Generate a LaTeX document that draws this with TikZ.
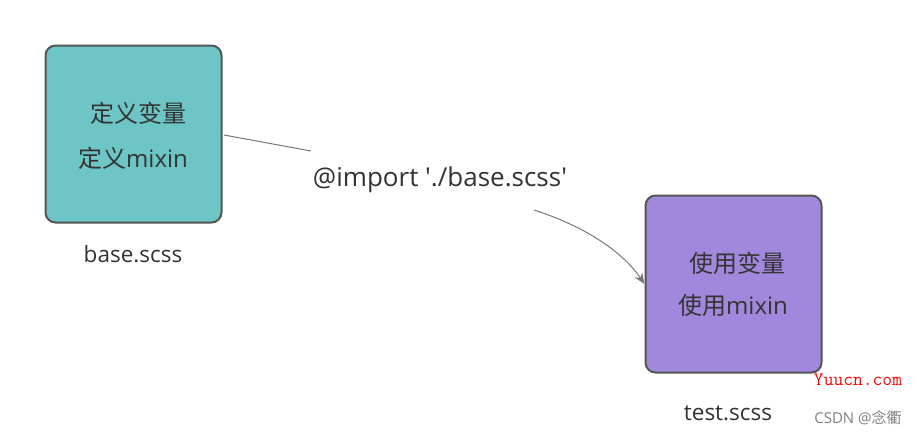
\documentclass[tikz,border=0pt]{standalone}
\usepackage{fontspec}
\newfontfamily\lat{Open Sans}
\newfontfamily\cjk{Noto Sans CJK SC}
\usetikzlibrary{arrows.meta}
\definecolor{teal1}{HTML}{6EC5C5}
\definecolor{purp1}{HTML}{A188DC}
\definecolor{bord}{HTML}{555555}
\definecolor{txt}{HTML}{333333}
\begin{document}
\begin{tikzpicture}[x=1pt,y=-1pt,
  box/.style={draw=bord,line width=2pt,rounded corners=10pt,minimum width=176pt,minimum height=177pt},
  inner/.style={text=txt,font=\lat\fontsize{24}{28}\selectfont,inner sep=0pt},
  capt/.style={text=txt,font=\lat\fontsize{22.5}{26}\selectfont,inner sep=0pt},
  conn/.style={draw=bord!80,line width=1pt}]
\useasboundingbox (0,0) rectangle (920,434);
\fill[white] (0,0) rectangle (920,434);
\node[box,fill=teal1] (a) at (133.5,134) {};
\node[box,fill=purp1] (b) at (733.5,284) {};
\node[inner] (a1) at (138,113) {\cjk 定义变量};
\node[inner] (a2) at (133,158) {{\cjk 定义}mixin};
\node[inner] (b1) at (737,263) {\cjk 使用变量};
\node[inner] (b2) at (733,305) {{\cjk 使用}mixin};
\node[capt] (la) at (133,254) {base.scss};
\node[capt] (lb) at (728,413) {test.scss};
\node[text=txt,font=\lat\fontsize{26}{30}\selectfont,inner sep=0pt] (lbl) at (440,180) {@import './base.scss'};
\coordinate (s1) at (224,135);
\coordinate (e1) at (311,151);
\coordinate (s2) at (534,210);
\draw[conn] (s1) -- (e1);
\draw[conn,-{Stealth[length=11pt,width=9pt]}] (s2) .. controls (590,228) and (625,255) .. (b.west |- 0,284);
\node[text=red,font=\ttfamily\fontsize{19}{22}\selectfont,inner sep=0pt] (wm) at (858,380) {Yuucn.com};
\node[text=gray,font=\lat\fontsize{15}{18}\selectfont,inner sep=0pt] (wm2) at (858,418) {CSDN @{\cjk 念衢}};
\end{tikzpicture}
\end{document}
